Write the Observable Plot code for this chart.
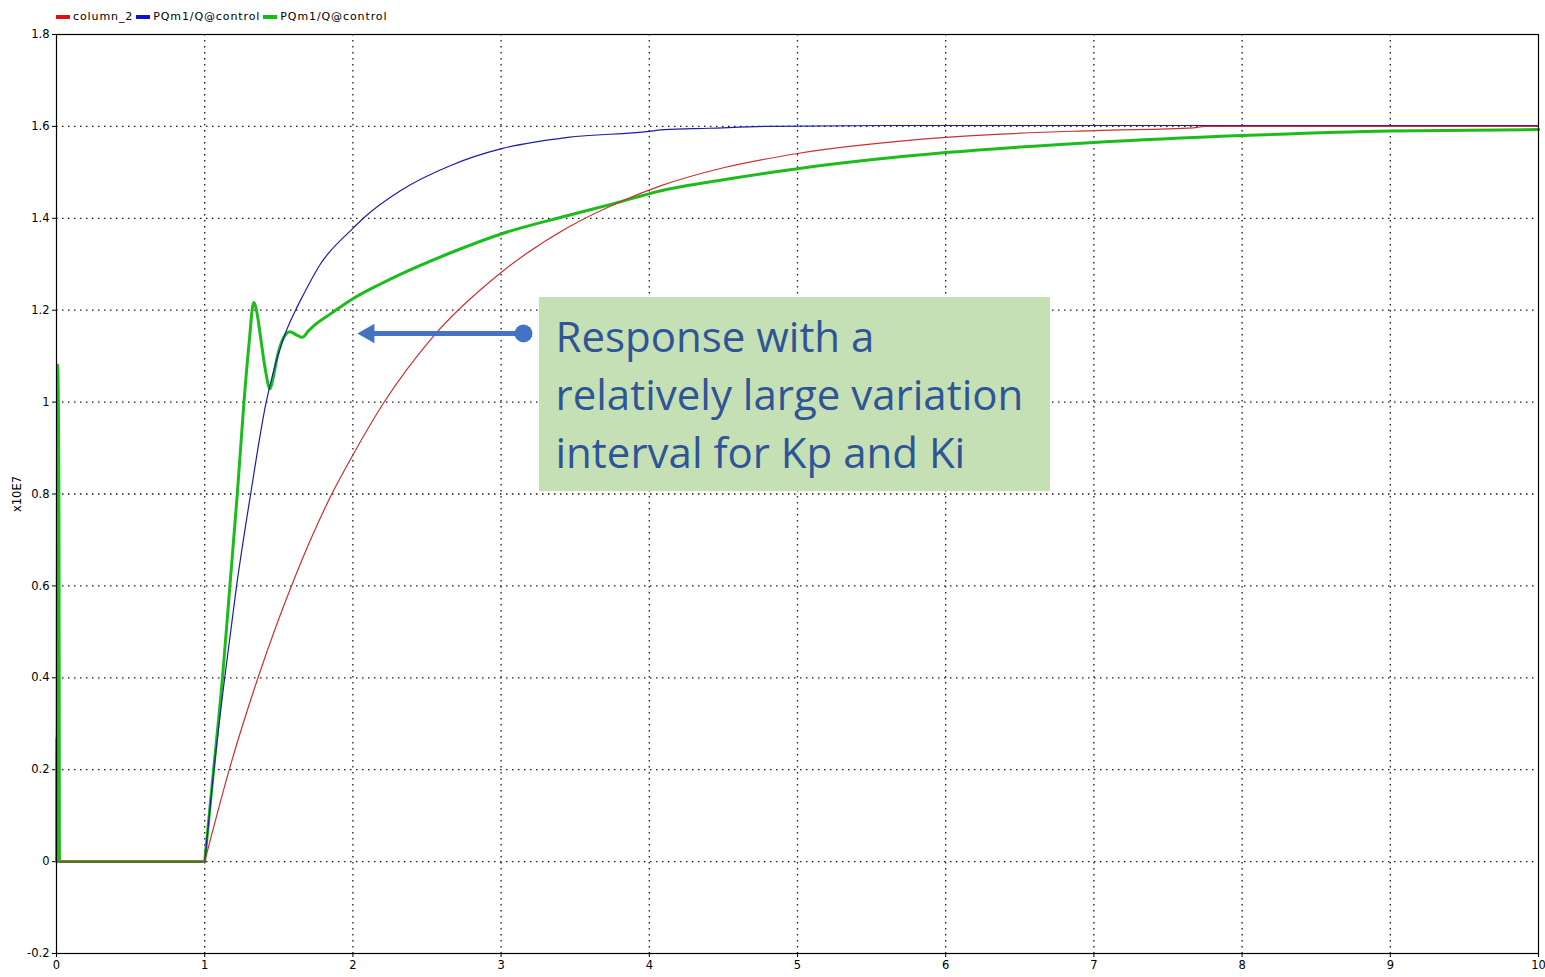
<!DOCTYPE html>
<html>
<head>
<meta charset="utf-8">
<script src="https://cdn.jsdelivr.net/npm/d3@7"></script>
<script src="https://cdn.jsdelivr.net/npm/@observablehq/plot@0.6"></script>
<style>
  html, body { margin: 0; padding: 0; background: #fff; }
  #legend { height: 26px; box-sizing: border-box; padding-left: 56px; padding-top: 7px;
            display: flex; align-items: center; font-family: "DejaVu Sans", sans-serif;
            font-size: 11px; letter-spacing: 0.9px; color: #000; line-height: 12px; }
  .item { display: flex; align-items: center; margin-right: 3px; }
  .sw { width: 14px; height: 4px; margin-right: 3px; }
  #chart svg { display: block; }
</style>
</head>
<body>
<div id="legend"></div>
<div id="chart"></div>
<script>
// ---------- data (values in units of 1e7) ----------
const seriesNames = ["column_2", "PQm1/Q@control", "PQm1/Q@control"];
const seriesColors = ["#c83232", "#1c1ca8", "#1cbc1c"];
const legendColors = ["#e01010", "#1010d0", "#10c010"];

const tRed = [0, 1.0, 1.17, 1.37, 1.61, 1.85, 2.0, 2.207, 2.54, 3.0, 3.45, 3.79, 4.08, 4.5, 5.0, 6.0, 7.0, 7.67, 7.75, 10];
const vRed = [0, 0, 0.205, 0.41, 0.62, 0.795, 0.885, 0.998, 1.142, 1.282, 1.38, 1.434, 1.471, 1.51, 1.541, 1.576, 1.591, 1.597, 1.6, 1.6];

const tBlue = [0, 1.0, 1.062, 1.135, 1.215, 1.31, 1.415, 1.466, 1.534, 1.613, 1.66, 1.78, 2.0, 2.07, 2.32, 2.66, 3.01, 3.45, 4.0, 4.1, 4.4, 4.8, 5.6, 10];
const vBlue = [0, 0, 0.2, 0.4, 0.6, 0.8, 1.0, 1.069, 1.141, 1.2, 1.23, 1.30, 1.378, 1.4, 1.46, 1.515, 1.552, 1.576, 1.589, 1.593, 1.596, 1.6, 1.602, 1.602];

const tGreen = [0, 0.001, 0.004, 0.008, 0.016, 0.02, 0.03, 1.0, 1.06, 1.12, 1.17, 1.22, 1.265, 1.30, 1.331, 1.355, 1.377, 1.41, 1.44, 1.46, 1.489, 1.534, 1.575, 1.62, 1.658, 1.70, 1.736, 1.849, 2.0, 2.186, 2.32, 2.66, 3.01, 3.45, 3.76, 4.08, 4.5, 5.0, 6.0, 7.0, 8.0, 9.0, 10];
const vGreen = [0, 0.27, 0.27, 1.08, 0.81, 0, 0, 0, 0.2, 0.4, 0.6, 0.8, 1.0, 1.13, 1.217, 1.19, 1.141, 1.069, 1.029, 1.05, 1.098, 1.141, 1.153, 1.146, 1.141, 1.155, 1.166, 1.192, 1.225, 1.257, 1.278, 1.325, 1.367, 1.406, 1.432, 1.46, 1.484, 1.508, 1.543, 1.565, 1.58, 1.59, 1.593];

const stepTime = 1.0; // time of the step input (start of the rise)

const xTicks = [0, 1, 2, 3, 4, 5, 6, 7, 8, 9, 10];
const yTicks = [-0.2, 0, 0.2, 0.4, 0.6, 0.8, 1, 1.2, 1.4, 1.6, 1.8];
const yLabel = "x10E7";

// annotation (in data coordinates)
const annLines = ["Response with a", "relatively large variation", "interval for Kp and Ki"];
const annLineY = [1.108, 0.983, 0.8575];
const annTextX = 3.367;
const annBoxX = [3.259, 6.707];
const annBoxY = [0.8054, 1.2276];
const arrowY = 1.1493;
const arrowTailX = 3.151;
const arrowHeadX = 2.107;

// ---------- build ----------
// split each series at the step time so the smooth curve keeps the corner there
const toRows = (ts, vs) => {
  const rows = ts.map((t, i) => ({t, v: vs[i], seg: t <= stepTime ? 0 : 1}));
  const joints = rows.filter(d => d.t === stepTime).map(d => ({...d, seg: 1}));
  return d3.sort(rows.concat(joints), d => d.t);
};
const red = toRows(tRed, vRed);
const blue = toRows(tBlue, vBlue);
const green = toRows(tGreen, vGreen);
const ann = annLines.map((text, i) => ({text, y: annLineY[i]}));

// legend
const legend = document.getElementById("legend");
seriesNames.forEach((name, i) => {
  const it = document.createElement("div");
  it.className = "item";
  const sw = document.createElement("div");
  sw.className = "sw";
  sw.style.background = legendColors[i];
  const tx = document.createElement("span");
  tx.textContent = name;
  it.appendChild(sw); it.appendChild(tx);
  legend.appendChild(it);
});

const fmtY = d => String(Math.round(d * 10) / 10);

const chart = Plot.plot({
  width: 1545,
  height: 951,
  marginLeft: 56,
  marginRight: 7,
  marginTop: 8,
  marginBottom: 24,
  style: {fontFamily: "DejaVu Sans, sans-serif", fontSize: "11px", background: "#fff", color: "#000", overflow: "visible"},
  x: {domain: [0, 10]},
  y: {domain: [-0.2, 1.8]},
  marks: [
    Plot.gridX(xTicks.slice(1, -1), {stroke: "#000", strokeOpacity: 0.9, strokeWidth: 1.3, strokeDasharray: "1.5,4.5"}),
    Plot.gridY(yTicks.slice(1, -1), {stroke: "#000", strokeOpacity: 0.9, strokeWidth: 1.3, strokeDasharray: "1.5,4.5"}),
    Plot.axisX(xTicks, {tickSize: 4, tickPadding: 3, label: null, fontSize: 11.5, tickFormat: d => String(d)}),
    Plot.axisY(yTicks, {tickSize: 4, tickPadding: 3, tickFormat: fmtY, fontSize: 11.5,
      label: yLabel, labelAnchor: "center", labelArrow: "none", labelOffset: 44}),
    Plot.rect([0], {x1: annBoxX[0], x2: annBoxX[1], y1: annBoxY[0], y2: annBoxY[1], fill: "#c5e0b4"}),
    Plot.line(green, {x: "t", y: "v", z: "seg", stroke: seriesColors[2], strokeWidth: 3, curve: "monotone-x"}),
    Plot.line(blue, {x: "t", y: "v", z: "seg", stroke: seriesColors[1], strokeWidth: 1.2, curve: "monotone-x"}),
    Plot.line(red, {x: "t", y: "v", z: "seg", stroke: seriesColors[0], strokeWidth: 1.2, curve: "monotone-x"}),
    Plot.frame({stroke: "#000", strokeWidth: 1.2}),
    Plot.ruleY([arrowY], {x1: arrowHeadX, x2: arrowTailX, stroke: "#4472c4", strokeWidth: 5}),
    Plot.dot([arrowY], {x: arrowTailX, y: d => d, r: 9, fill: "#4472c4", stroke: null}),
    Plot.dot([arrowY], {x: arrowHeadX, y: d => d, r: 7.3, symbol: "triangle", rotate: -90, fill: "#4472c4", stroke: null}),
    Plot.text(ann, {x: annTextX, y: "y", text: "text", textAnchor: "start", lineAnchor: "bottom",
      fontSize: 42, fontFamily: "Open Sans", fill: "#2f5597"})
  ]
});
document.getElementById("chart").appendChild(chart);
</script>
</body>
</html>
